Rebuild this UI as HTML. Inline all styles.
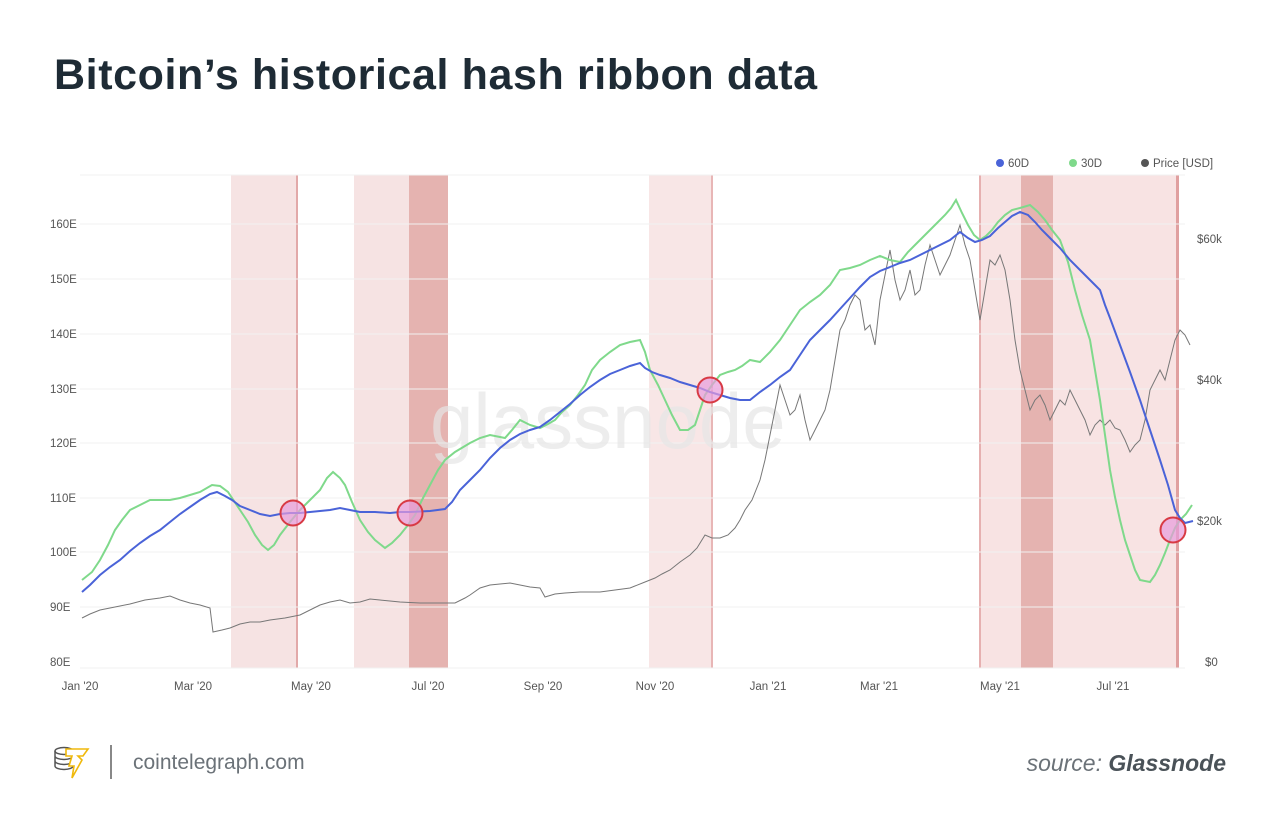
<!DOCTYPE html>
<html><head><meta charset="utf-8"><style>
body{margin:0;width:1280px;height:833px;background:#fff;overflow:hidden;font-family:"Liberation Sans",sans-serif}
</style></head><body>
<svg width="1280" height="833" viewBox="0 0 1280 833" xmlns="http://www.w3.org/2000/svg" font-family="Liberation Sans, sans-serif">
<text x="54" y="89" font-size="43" font-weight="bold" fill="#1e2b35" letter-spacing="0.6">Bitcoin’s historical hash ribbon data</text>
<g>
<rect x="231" y="175" width="67" height="493" fill="#f6e3e3"/>
<rect x="296" y="175" width="2" height="493" fill="#e2a9a9"/>
<rect x="354" y="175" width="55" height="493" fill="#f6e3e3"/>
<rect x="409" y="175" width="39" height="493" fill="#e5b3b0"/>
<rect x="649" y="175" width="64" height="493" fill="#f8e6e6"/>
<rect x="711" y="175" width="2" height="493" fill="#e8b6b6"/>
<rect x="980" y="175" width="41" height="493" fill="#f8e3e3"/>
<rect x="979" y="175" width="2" height="493" fill="#e6b0b0"/>
<rect x="1021" y="175" width="32" height="493" fill="#e5b3b0"/>
<rect x="1053" y="175" width="125" height="493" fill="#f8e3e3"/>
<rect x="1176" y="175" width="3" height="493" fill="#e0a0a0"/>
</g>
<g stroke="#f1f1f1" stroke-width="1">
<line x1="80" x2="1185" y1="175" y2="175"/>
<line x1="80" x2="1185" y1="224" y2="224"/>
<line x1="80" x2="1185" y1="279" y2="279"/>
<line x1="80" x2="1185" y1="334" y2="334"/>
<line x1="80" x2="1185" y1="389" y2="389"/>
<line x1="80" x2="1185" y1="443" y2="443"/>
<line x1="80" x2="1185" y1="498" y2="498"/>
<line x1="80" x2="1185" y1="552" y2="552"/>
<line x1="80" x2="1185" y1="607" y2="607"/>
<line x1="80" x2="1185" y1="668" y2="668"/>
</g>
<text x="430" y="448" font-size="78" fill="#e6e6e6" opacity="0.7">glassnode</text>
<g font-size="11.5" fill="#555">
<text x="50" y="228">160E</text><text x="50" y="283">150E</text><text x="50" y="338">140E</text>
<text x="50" y="393">130E</text><text x="50" y="447">120E</text><text x="50" y="502">110E</text>
<text x="50" y="556">100E</text><text x="50" y="611">90E</text><text x="50" y="666">80E</text>
<text x="1197" y="243">$60k</text><text x="1197" y="384">$40k</text><text x="1197" y="525">$20k</text><text x="1205" y="666">$0</text>
</g>
<g font-size="11.5" fill="#555" text-anchor="middle">
<text x="80" y="690">Jan '20</text><text x="193" y="690">Mar '20</text><text x="311" y="690">May '20</text>
<text x="428" y="690">Jul '20</text><text x="543" y="690">Sep '20</text><text x="655" y="690">Nov '20</text>
<text x="768" y="690">Jan '21</text><text x="879" y="690">Mar '21</text><text x="1000" y="690">May '21</text><text x="1113" y="690">Jul '21</text>
</g>
<g font-size="11.5" fill="#555">
<circle cx="1000" cy="163" r="4" fill="#4a63d8"/><text x="1008" y="167">60D</text>
<circle cx="1073" cy="163" r="4" fill="#7fd98b"/><text x="1081" y="167">30D</text>
<circle cx="1145" cy="163" r="4" fill="#555"/><text x="1153" y="167">Price [USD]</text>
</g>
<polyline fill="none" stroke="#777" stroke-width="1" points="82,618 90,614 100,610 115,607 130,604 145,600 160,598 170,596 180,600 190,603 200,605 210,608 213,632 222,630 230,628 240,624 250,622 260,622 270,620 285,618 300,615 310,610 320,605 330,602 340,600 350,603 360,602 370,599 380,600 390,601 400,602 420,603 440,603 455,603 465,598 470,595 480,588 490,585 500,584 510,583 520,585 530,587 540,588 545,597 555,594 565,593 580,592 600,592 615,590 630,588 645,582 655,578 662,574 670,570 680,562 690,555 697,548 705,535 712,538 720,538 728,535 735,528 740,520 745,510 752,500 760,480 765,460 770,435 775,410 780,385 785,400 790,415 795,410 800,395 805,420 810,440 815,430 820,420 825,410 830,390 835,360 840,330 845,320 850,305 855,295 860,300 865,330 870,325 875,345 880,300 885,275 890,250 895,280 900,300 905,290 910,270 915,295 920,290 925,265 930,245 935,260 940,275 945,265 950,255 955,240 960,225 965,245 970,260 975,290 980,320 985,290 990,260 995,265 1000,255 1005,270 1010,300 1015,340 1020,370 1025,390 1030,410 1035,400 1040,395 1045,405 1050,420 1055,410 1060,400 1065,405 1070,390 1075,400 1080,410 1085,420 1090,435 1095,425 1100,420 1105,425 1110,420 1115,428 1120,430 1125,440 1130,452 1135,445 1140,440 1145,420 1150,390 1155,380 1160,370 1165,380 1170,360 1175,340 1180,330 1185,335 1190,345"/>
<polyline fill="none" stroke="#7fd98b" stroke-width="2" points="82,580 92,572 100,560 108,545 115,530 122,520 130,510 140,505 150,500 160,500 170,500 180,498 190,495 200,492 212,485 220,486 228,492 240,510 248,522 255,535 262,545 268,550 274,545 280,535 290,522 300,510 310,500 320,490 327,478 333,472 340,478 345,485 352,502 360,520 368,532 375,540 385,548 392,543 400,535 408,525 415,515 422,500 430,485 438,470 445,460 455,452 470,443 480,438 490,435 500,437 505,438 512,430 520,420 530,425 540,428 548,424 555,420 562,412 570,405 578,395 585,385 592,370 600,360 610,352 620,345 630,342 640,340 645,352 650,370 658,385 665,400 672,415 680,430 688,430 695,425 700,410 705,395 712,385 720,375 728,372 735,370 742,366 750,360 760,362 770,352 780,340 790,325 800,310 810,302 820,295 830,285 840,270 850,268 860,265 870,260 880,256 890,260 900,262 908,252 915,245 922,238 930,230 938,222 945,215 951,208 956,200 962,213 968,225 974,235 980,240 986,236 992,230 998,222 1005,215 1012,210 1020,208 1030,205 1038,212 1045,220 1052,230 1060,240 1068,262 1075,290 1082,315 1090,340 1095,370 1100,400 1105,435 1110,470 1115,497 1120,520 1125,540 1130,555 1135,570 1140,580 1150,582 1155,575 1160,565 1165,553 1170,540 1175,528 1180,520 1186,514 1192,505"/>
<polyline fill="none" stroke="#4a63d8" stroke-width="2" points="82,592 90,585 100,575 110,567 120,560 130,551 140,543 150,536 160,530 170,522 180,514 190,507 200,500 210,494 217,492 225,496 232,500 240,506 250,510 260,514 270,516 280,514 290,513 300,513 310,512 320,511 330,510 340,508 350,510 360,512 375,512 390,513 400,512 410,512 430,511 445,509 452,502 460,490 470,480 480,470 490,458 500,448 510,440 520,434 530,430 540,427 550,420 560,412 570,404 580,395 590,387 600,380 610,374 620,370 630,366 640,363 645,368 652,372 660,375 670,378 680,382 690,385 700,388 710,392 720,395 730,398 740,400 750,400 760,392 770,385 780,377 790,370 800,355 810,340 820,330 830,320 840,309 850,298 860,287 870,277 880,271 890,267 900,263 910,260 920,255 930,250 940,245 950,240 955,236 960,232 968,238 975,242 982,240 990,236 998,228 1005,222 1012,216 1020,212 1028,215 1035,222 1042,230 1050,238 1060,248 1070,260 1080,270 1090,280 1095,285 1100,290 1105,305 1110,318 1120,345 1130,372 1140,400 1150,430 1160,460 1168,485 1175,510 1180,518 1185,523 1193,521"/>
<g fill="#e79bdc" fill-opacity="0.7" stroke="#d83a44" stroke-width="2">
<circle cx="293" cy="513" r="12.5"/><circle cx="410" cy="513" r="12.5"/>
<circle cx="710" cy="390" r="12.5"/><circle cx="1173" cy="530" r="12.5"/>
</g>
<g fill="none" stroke="#555" stroke-width="1.5">
<ellipse cx="64" cy="751" rx="9" ry="3.5"/>
<path d="M55 751v15a9 3.5 0 0 0 18 0v-15M55 756a9 3.5 0 0 0 18 0M55 761a9 3.5 0 0 0 18 0"/>
</g>
<path d="M66 749h22l-5 7h-5l4 4-10 18 2-12h-5l3-10h-6z" fill="#fff" stroke="#f0b90b" stroke-width="1.6"/>
<line x1="111" y1="745" x2="111" y2="779" stroke="#888" stroke-width="2"/>
<text x="133" y="769" font-size="21" fill="#6b7278">cointelegraph.com</text>
<text x="1226" y="771" font-size="23" fill="#6b7278" text-anchor="end" font-style="italic">source: <tspan font-weight="bold" fill="#4a5258">Glassnode</tspan></text>
</svg>
</body></html>
